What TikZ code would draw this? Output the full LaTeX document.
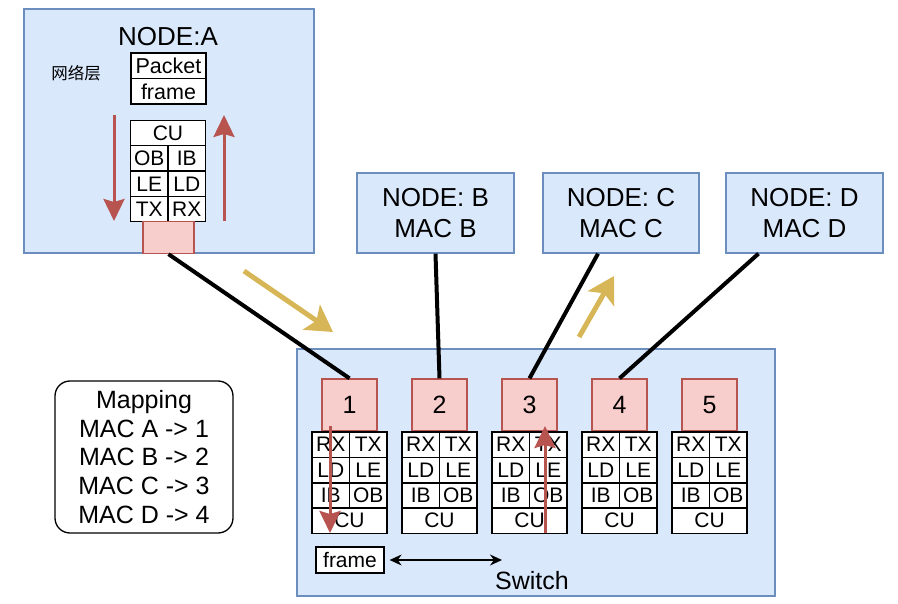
\documentclass[tikz,border=0pt]{standalone}
\usepackage{fontspec}
\setmainfont{Liberation Sans}
\newfontfamily\cjkfont{Noto Sans CJK SC}
\usetikzlibrary{arrows.meta,calc}
\definecolor{hostfill}{HTML}{DAE8FC}
\definecolor{hostline}{HTML}{6C8EBF}
\definecolor{portfill}{HTML}{F8CECC}
\definecolor{portline}{HTML}{B85450}
\definecolor{hintcol}{HTML}{D6B656}
\tikzset{
  every picture/.style={
    x=1pt, y=-1pt
  },
  host/.style={
    draw=hostline, fill=hostfill, line width=1.3pt,
    inner sep=0pt, align=center,
    font=\fontsize{26}{31}\selectfont
  },
  port/.style={
    draw=portline, fill=portfill, line width=1.3pt,
    minimum width=55pt, minimum height=52pt, inner sep=0pt,
    font=\fontsize{25}{28}\selectfont
  },
  cell/.style={
    draw, fill=white, line width=1.3pt, inner sep=0pt,
    minimum width=37.5pt, minimum height=25.3pt,
    font=\fontsize{21}{24}\selectfont
  },
  wide cell/.style={
    cell, minimum width=75pt
  },
  link/.style={
    line width=4pt
  },
  flow/.style={
    draw=portline, line width=3pt,
    -{Stealth[length=22pt, width=21pt, inset=3pt]}
  },
  hint/.style={
    draw=hintcol, line width=5pt,
    -{Stealth[length=26pt, width=30pt, inset=6pt]}
  }
}
\begin{document}
\begin{tikzpicture}
  \useasboundingbox (0,0) rectangle (898,604);
  % hosts
  \node[host, minimum width=290pt, minimum height=244pt] (A) at (169,131) {};
  \node[font=\fontsize{26}{30}\selectfont] (Aname) at (168,37) {NODE:A};
  \node[font=\cjkfont\fontsize{16.5}{20}\selectfont] (layer) at (76,73) {网络层};
  \node[host, minimum width=157pt, minimum height=80pt] (B) at (435.5,213) {NODE: B\\MAC B};
  \node[host, minimum width=156pt, minimum height=80pt] (C) at (621,213) {NODE: C\\MAC C};
  \node[host, minimum width=157pt, minimum height=80pt] (D) at (804.5,213) {NODE: D\\MAC D};
  % packet and stack of A
  \node[wide cell, minimum height=26pt, font=\fontsize{21.5}{24}\selectfont] (packet) at (168.5,66) {Packet};
  \node[wide cell, font=\fontsize{21.5}{24}\selectfont] (frameA) at (168.5,91.5) {frame};
  \node[wide cell] (cuA) at (168,133) {CU};
  \node[cell] (obA) at (149.25,158.5) {OB};
  \node[cell] (ibA) at (186.75,158.5) {IB};
  \node[cell] (leA) at (149.25,184) {LE};
  \node[cell] (ldA) at (186.75,184) {LD};
  \node[cell] (txA) at (149.25,209) {TX};
  \node[cell] (rxA) at (186.75,209) {RX};
  \node[port, minimum width=51pt, minimum height=32pt] (pA) at (168.5,237.5) {};
  % switch
  \node[host, minimum width=478pt, minimum height=247pt] (S) at (536,472.5) {};
  \node[font=\fontsize{25}{28}\selectfont] (Sname) at (532,581) {Switch};
  \foreach \i [evaluate=\i as \cx using 349.5+90*(\i-1)] in {1,...,5}{
    \node[port] (p\i) at (\cx,405) {\i};
    \node[cell] (rx\i) at (\cx-18.75,444.5) {RX};
    \node[cell] (tx\i) at (\cx+18.75,444.5) {TX};
    \node[cell] (ld\i) at (\cx-18.75,470) {LD};
    \node[cell] (le\i) at (\cx+18.75,470) {LE};
    \node[cell] (ib\i) at (\cx-18.75,495.5) {IB};
    \node[cell] (ob\i) at (\cx+18.75,495.5) {OB};
    \node[wide cell] (cu\i) at (\cx,520.5) {CU};
  }
  \node[cell, minimum width=68pt, minimum height=26pt] (frameS) at (350,560) {frame};
  \coordinate (swend) at (502,560);
  \draw[line width=1.3pt, {Stealth[length=12pt, width=11pt]}-{Stealth[length=12pt, width=11pt]}]
    ([xshift=5pt]frameS.east) -- (swend);
  % mapping
  \node[draw, line width=1.3pt, rounded corners=15pt, minimum width=178pt, minimum height=152pt,
    align=center, font=\fontsize{25}{28.6}\selectfont] (map) at (144,457)
    {Mapping\\MAC A -> 1\\MAC B -> 2\\MAC C -> 3\\MAC D -> 4};
  % cables
  \draw[link] (pA.south) -- (p1.north);
  \draw[link] (B.south) -- (p2.north);
  \draw[link] ([xshift=-23pt]C.south) -- (p3.north);
  \draw[link] ([xshift=-46pt]D.south) -- (p4.north);
  % data flow
  \coordinate (downA) at (114,115);
  \coordinate (downB) at (114,221);
  \coordinate (upA) at (224,221);
  \coordinate (upB) at (224,115);
  \draw[flow] (downA) -- (downB);
  \draw[flow] (upA) -- (upB);
  \coordinate (in1) at (330,426);
  \coordinate (in2) at (330,533);
  \coordinate (out1) at (545,533);
  \coordinate (out2) at (545,426);
  \draw[flow] (in1) -- (in2);
  \draw[flow] (out1) -- (out2);
  \coordinate (h1) at (244,271);
  \coordinate (h2) at (333,332);
  \coordinate (h3) at (579,337);
  \coordinate (h4) at (614,276);
  \draw[hint] (h1) -- (h2);
  \draw[hint] (h3) -- (h4);
\end{tikzpicture}
\end{document}
